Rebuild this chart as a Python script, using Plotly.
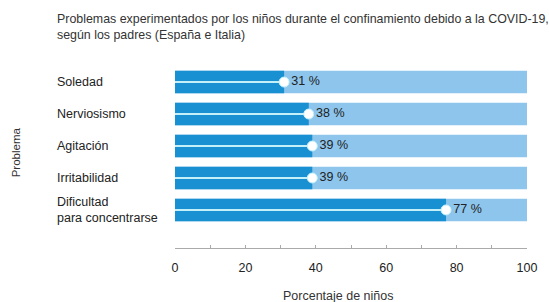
import plotly.graph_objects as go

categories = ["Soledad", "Nerviosismo", "Agitación", "Irritabilidad", "Dificultad<br>para concentrarse"]
values = [31, 38, 39, 39, 77]
value_labels = ["31 %", "38 %", "39 %", "39 %", "77 %"]
full = [100, 100, 100, 100, 100]
x_ticks = [0, 20, 40, 60, 80, 100]

DARK = "#1890d2"
LIGHT = "#8dc5ec"
LINE = "#c4f0fa"
FONT = "Liberation Sans, Arial, sans-serif"

W, H = 549, 302
ML, MR, MT, MB = 175, 19, 60, 54
PW, PH = W - ML - MR, H - MT - MB


def px_x(px):
    return (px - ML) / PW


def px_y(py):
    return (H - MB - py) / PH


idx = list(range(len(categories)))

fig = go.Figure()
fig.add_trace(go.Bar(x=full, y=idx, orientation="h", marker=dict(color=LIGHT, line=dict(width=0)),
                     width=0.7, hoverinfo="skip"))
fig.add_trace(go.Bar(x=values, y=idx, orientation="h", marker=dict(color=DARK, line=dict(width=0)),
                     width=0.7))

lx, ly = [], []
for i, v in zip(idx, values):
    lx += [0, v, None]
    ly += [i, i, None]
fig.add_trace(go.Scatter(x=lx, y=ly, mode="lines", line=dict(color=LINE, width=2), hoverinfo="skip"))
fig.add_trace(go.Scatter(x=values, y=idx, mode="markers+text",
                         marker=dict(color="white", size=10, line=dict(color=LINE, width=1)),
                         text=value_labels, textposition="middle right",
                         textfont=dict(family=FONT, size=12.5, color="#222222"), cliponaxis=False))

annotations = []
for i, c in zip(idx, categories):
    annotations.append(dict(x=px_x(54), xref="paper", y=i, yref="y", text=c, showarrow=False,
                            xanchor="left", yanchor="middle", align="left",
                            font=dict(family=FONT, size=12.5, color="#222222")))
annotations.append(dict(x=px_x(15), xref="paper", y=px_y(152), yref="paper", text="Problema", textangle=-90,
                        showarrow=False, xanchor="center", yanchor="middle",
                        font=dict(family=FONT, size=11.5, color="#333333")))
annotations.append(dict(x=px_x(340), xref="paper", y=px_y(296), yref="paper", text="Porcentaje de niños",
                        showarrow=False, xanchor="center", yanchor="middle",
                        font=dict(family=FONT, size=12.5, color="#333333")))
annotations.append(dict(x=px_x(54), xref="paper", y=px_y(27), yref="paper",
                        text="Problemas experimentados por los niños durante el confinamiento debido a la COVID-19,<br>según los padres (España e Italia)",
                        showarrow=False, xanchor="left", yanchor="middle", align="left",
                        font=dict(family=FONT, size=12.4, color="#333333")))

fig.update_layout(
    width=W, height=H,
    margin=dict(l=ML, r=MR, t=MT, b=MB),
    paper_bgcolor="white", plot_bgcolor="white",
    barmode="overlay", showlegend=False,
    xaxis=dict(range=[0, 100], tickvals=x_ticks, showgrid=False, zeroline=False,
               showline=True, linecolor="#aaaaaa", linewidth=1,
               ticks="inside", ticklen=3, tickcolor="#aaaaaa",
               minor=dict(dtick=10, ticks="inside", ticklen=3, tickcolor="#aaaaaa"),
               tickfont=dict(family=FONT, size=12.5, color="#222222"), ticklabelstandoff=8),
    yaxis=dict(range=[5.19, -0.69], showticklabels=False, showgrid=False, zeroline=False, showline=False),
    annotations=annotations,
)
fig.write_html("out.html", config={"displayModeBar": False},
               post_script="document.body.style.margin='0';")
